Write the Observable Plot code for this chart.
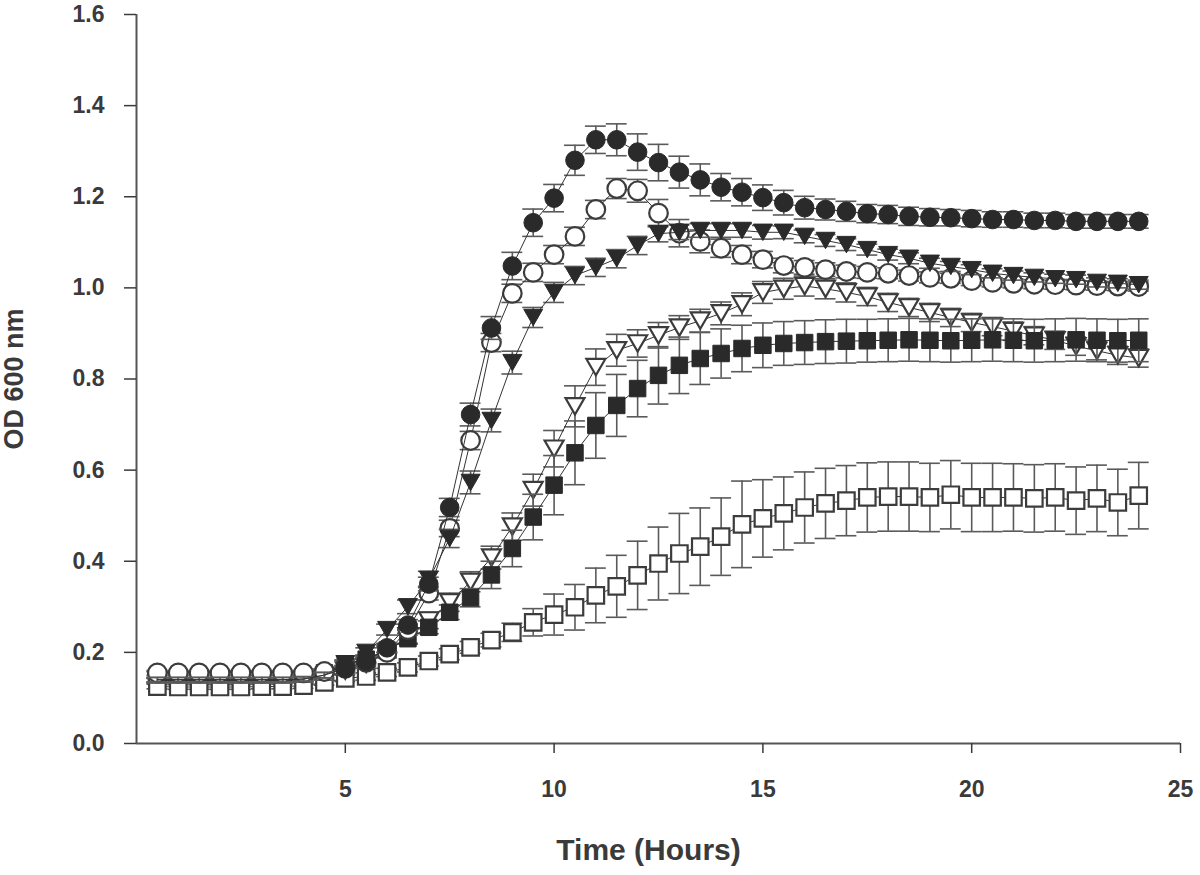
<!DOCTYPE html>
<html><head><meta charset="utf-8">
<script src="https://cdn.jsdelivr.net/npm/d3@7"></script>
<script src="https://cdn.jsdelivr.net/npm/@observablehq/plot@0.6"></script>
<style>
body{margin:0;background:#fff;}
#chart svg{font-family:"Liberation Sans",Arial,sans-serif;}
</style>
</head><body><div id="chart"></div>
<script>
// ---- data ----
const hours = [0.5,1,1.5,2,2.5,3,3.5,4,4.5,5,5.5,6,6.5,7,7.5,8,8.5,9,9.5,10,10.5,11,11.5,12,12.5,13,13.5,14,14.5,15,15.5,16,16.5,17,17.5,18,18.5,19,19.5,20,20.5,21,21.5,22,22.5,23,23.5,24];

const filledCircle = [0.14,0.14,0.14,0.14,0.14,0.14,0.14,0.141,0.15,0.165,0.18,0.21,0.26,0.35,0.518,0.722,0.912,1.048,1.143,1.197,1.28,1.325,1.325,1.298,1.275,1.254,1.237,1.221,1.21,1.198,1.187,1.176,1.172,1.168,1.163,1.161,1.157,1.155,1.154,1.152,1.15,1.15,1.148,1.148,1.146,1.146,1.146,1.146];
const filledCircleErr = [0.005,0.005,0.005,0.005,0.005,0.005,0.005,0.005,0.006,0.006,0.008,0.01,0.012,0.015,0.02,0.025,0.025,0.03,0.03,0.03,0.033,0.03,0.035,0.04,0.04,0.035,0.035,0.03,0.03,0.028,0.027,0.025,0.023,0.022,0.02,0.02,0.02,0.019,0.018,0.018,0.017,0.017,0.016,0.016,0.015,0.015,0.015,0.015];

const openCircle = [0.155,0.155,0.155,0.155,0.155,0.155,0.155,0.155,0.158,0.165,0.178,0.2,0.25,0.33,0.472,0.665,0.88,0.988,1.034,1.073,1.113,1.172,1.218,1.213,1.164,1.12,1.102,1.087,1.073,1.062,1.049,1.045,1.04,1.036,1.034,1.032,1.027,1.023,1.021,1.016,1.012,1.01,1.008,1.007,1.006,1.005,1.004,1.003];
const openCircleErr = [0.005,0.005,0.005,0.005,0.005,0.005,0.005,0.005,0.005,0.006,0.008,0.01,0.012,0.015,0.018,0.02,0.02,0.02,0.02,0.02,0.02,0.02,0.022,0.025,0.03,0.03,0.025,0.02,0.02,0.018,0.016,0.015,0.015,0.014,0.013,0.012,0.012,0.012,0.011,0.011,0.01,0.01,0.01,0.01,0.01,0.01,0.01,0.01];

const filledTriangle = [0.14,0.14,0.14,0.14,0.14,0.14,0.14,0.142,0.15,0.175,0.2,0.25,0.3,0.36,0.45,0.573,0.709,0.836,0.935,0.99,1.027,1.045,1.064,1.093,1.119,1.122,1.126,1.126,1.126,1.122,1.122,1.113,1.104,1.095,1.084,1.073,1.065,1.054,1.047,1.04,1.032,1.027,1.023,1.02,1.018,1.012,1.01,1.007];
const filledTriangleErr = [0.005,0.005,0.005,0.005,0.005,0.005,0.005,0.005,0.006,0.008,0.01,0.012,0.015,0.018,0.02,0.025,0.025,0.025,0.022,0.022,0.02,0.02,0.02,0.02,0.018,0.016,0.015,0.015,0.015,0.015,0.014,0.014,0.013,0.013,0.012,0.012,0.012,0.011,0.011,0.011,0.01,0.01,0.01,0.01,0.01,0.01,0.01,0.01];

const openTriangle = [0.138,0.138,0.138,0.138,0.138,0.138,0.138,0.14,0.145,0.16,0.175,0.2,0.235,0.27,0.31,0.355,0.408,0.476,0.556,0.647,0.74,0.826,0.863,0.878,0.896,0.913,0.928,0.944,0.964,0.99,0.998,1.004,0.998,0.99,0.981,0.968,0.957,0.946,0.935,0.924,0.915,0.905,0.895,0.885,0.872,0.862,0.852,0.846];
const openTriangleErr = [0.005,0.005,0.005,0.005,0.005,0.005,0.005,0.005,0.006,0.008,0.01,0.012,0.015,0.018,0.02,0.022,0.025,0.03,0.035,0.04,0.045,0.04,0.035,0.03,0.028,0.026,0.025,0.025,0.025,0.024,0.023,0.022,0.022,0.021,0.02,0.02,0.02,0.02,0.02,0.02,0.02,0.02,0.02,0.02,0.02,0.02,0.02,0.02];

const filledSquare = [0.138,0.138,0.138,0.138,0.138,0.138,0.138,0.14,0.155,0.175,0.185,0.205,0.23,0.255,0.288,0.32,0.37,0.428,0.497,0.567,0.638,0.698,0.742,0.779,0.808,0.83,0.845,0.856,0.867,0.874,0.878,0.88,0.882,0.883,0.884,0.885,0.886,0.885,0.884,0.885,0.886,0.885,0.884,0.885,0.886,0.885,0.884,0.885];
const filledSquareErr = [0.005,0.005,0.005,0.005,0.005,0.005,0.005,0.005,0.006,0.008,0.008,0.01,0.012,0.014,0.016,0.02,0.03,0.04,0.05,0.065,0.07,0.072,0.068,0.062,0.063,0.062,0.057,0.054,0.051,0.049,0.048,0.048,0.048,0.048,0.047,0.047,0.047,0.047,0.047,0.047,0.047,0.047,0.047,0.047,0.047,0.047,0.047,0.047];

const openSquare = [0.125,0.124,0.124,0.124,0.124,0.125,0.125,0.127,0.134,0.143,0.147,0.156,0.167,0.181,0.196,0.211,0.227,0.244,0.266,0.283,0.299,0.325,0.345,0.369,0.395,0.417,0.432,0.454,0.481,0.494,0.505,0.518,0.527,0.533,0.54,0.542,0.542,0.54,0.546,0.54,0.54,0.54,0.538,0.54,0.533,0.538,0.529,0.544];
const openSquareErr = [0.005,0.005,0.005,0.005,0.005,0.005,0.005,0.006,0.006,0.007,0.008,0.009,0.01,0.011,0.012,0.013,0.015,0.02,0.03,0.045,0.05,0.06,0.068,0.075,0.08,0.088,0.085,0.085,0.095,0.085,0.08,0.078,0.077,0.077,0.076,0.076,0.076,0.075,0.075,0.075,0.075,0.074,0.074,0.074,0.074,0.073,0.073,0.073];

const xTicks = [5,10,15,20,25];
const yTicks = [0,0.2,0.4,0.6,0.8,1.0,1.2,1.4,1.6];
const xTitle = "Time (Hours)";
const yTitle = "OD 600 nm";

// ---- symbols ----
const triangleDown = {
  draw(ctx, size) {
    const s = Math.sqrt(size) * 1.15;
    const h = s * Math.sqrt(3) / 2;
    ctx.moveTo(-s / 2, -h / 2);
    ctx.lineTo(s / 2, -h / 2);
    ctx.lineTo(0, h / 2);
    ctx.closePath();
  }
};

const dark = "#2a2a2a";
const edge = "#3c3c3c";
// drawing order: bottom to top; "lagUnder" series are hidden beneath the others during the lag phase
const series = [
  {values: openSquare, err: openSquareErr, symbol: "square", fill: "white", lagUnder: false},
  {values: openTriangle, err: openTriangleErr, symbol: triangleDown, fill: "white", lagUnder: true},
  {values: filledSquare, err: filledSquareErr, symbol: "square", fill: dark, lagUnder: true},
  {values: openCircle, err: openCircleErr, symbol: "circle", fill: "white", lagUnder: false},
  {values: filledTriangle, err: filledTriangleErr, symbol: triangleDown, fill: dark, lagUnder: true},
  {values: filledCircle, err: filledCircleErr, symbol: "circle", fill: dark, lagUnder: true}
];

const lagEnd = 4.5;
const dotOpts = s => ({
  x: "t", y: "v", r: 9.3, symbol: () => s.symbol, fill: s.fill,
  stroke: s.fill === "white" ? edge : dark, strokeWidth: s.fill === "white" ? 2.2 : 1
});
const rowsOf = s => hours.map((t, i) => ({t, v: s.values[i], e: s.err[i]}));

const marks = [];
for (const s of series.filter(s => s.lagUnder)) {
  marks.push(Plot.dot(rowsOf(s).filter(d => d.t <= lagEnd), dotOpts(s)));
}
for (const s of series) {
  const rows = rowsOf(s);
  const shown = s.lagUnder ? rows.filter(d => d.t > lagEnd) : rows;
  marks.push(
    Plot.ruleX(rows, {x: "t", y1: d => d.v - d.e, y2: d => d.v + d.e, stroke: "#5a5a5a", strokeWidth: 1.6}),
    Plot.ruleY(rows, {y: d => d.v + d.e, x1: d => d.t - 0.25, x2: d => d.t + 0.25, stroke: "#5a5a5a", strokeWidth: 1.6}),
    Plot.ruleY(rows, {y: d => d.v - d.e, x1: d => d.t - 0.25, x2: d => d.t + 0.25, stroke: "#5a5a5a", strokeWidth: 1.6}),
    Plot.line(rows, {x: "t", y: "v", stroke: "#333", strokeWidth: 1}),
    Plot.dot(shown, dotOpts(s))
  );
}

const chart = Plot.plot({
  width: 1200,
  height: 875,
  marginLeft: 136,
  marginRight: 20,
  marginTop: 14,
  marginBottom: 132,
  style: {color: "#3a3a3a", background: "white", overflow: "visible"},
  x: {domain: [0, 25]},
  y: {domain: [0, 1.6]},
  symbol: {type: "identity"},
  marks: [
    ...marks,
    Plot.ruleX([0], {stroke: "#555", strokeWidth: 2}),
    Plot.ruleY([0], {stroke: "#555", strokeWidth: 2}),
    Plot.axisY({ticks: yTicks, tickFormat: d3.format(".1f"), tickSize: 12, tickPadding: 20, fontSize: 23, fontWeight: "bold", label: null, strokeWidth: 1.5}),
    Plot.axisX({ticks: xTicks, tickSize: 10, tickPadding: 27, fontSize: 23, fontWeight: "bold", label: null, strokeWidth: 1.5}),
    Plot.text([xTitle], {frameAnchor: "bottom", dx: -10, dy: 116, fontSize: 30, fontWeight: "bold", fill: "#3a3a3a"}),
    Plot.text([yTitle], {frameAnchor: "left", textAnchor: "middle", dx: -122, rotate: -90, fontSize: 27, fontWeight: "bold", fill: "#3a3a3a"})
  ]
});
document.getElementById("chart").appendChild(chart);
</script>
</body></html>
